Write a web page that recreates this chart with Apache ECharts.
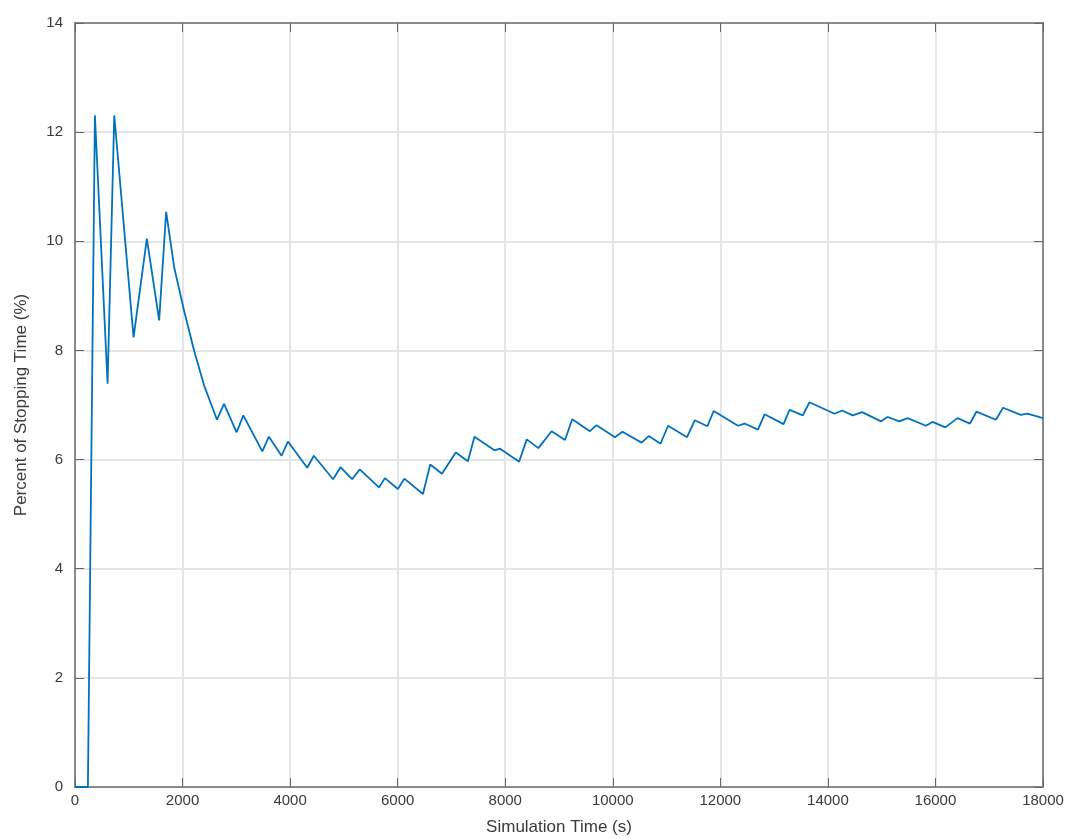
<!DOCTYPE html>
<html>
<head>
<meta charset="utf-8">
<script src="https://cdn.jsdelivr.net/npm/echarts@6/dist/echarts.min.js"></script>
<style>
html,body{margin:0;padding:0;background:#fff;}
#chart{width:1077px;height:839px;}
</style>
</head>
<body>
<div id="chart"></div>
<script>
var simTime = [0,240,370,606,730,1089,1336,1565,1695,1843,2028,2214,2400,2640,2771,3006,3130,3483,3606,3841,3959,4318,4441,4800,4936,5153,5295,5652,5763,6004,6124,6470,6606,6823,7080,7306,7428,7799,7905,8258,8400,8616,8863,9111,9246,9575,9699,10039,10181,10534,10670,10887,11028,11381,11524,11760,11876,12328,12452,12699,12823,13176,13287,13534,13658,14122,14264,14462,14636,14988,15111,15328,15482,15824,15947,16183,16411,16642,16764,17124,17258,17586,17709,18000];
var stopPct = [0,0,12.31,7.39,12.31,8.24,10.05,8.55,10.54,9.53,8.73,8.0,7.36,6.73,7.02,6.50,6.81,6.15,6.42,6.07,6.33,5.85,6.07,5.64,5.86,5.64,5.82,5.49,5.66,5.46,5.65,5.37,5.91,5.74,6.13,5.97,6.42,6.17,6.20,5.96,6.37,6.21,6.52,6.36,6.74,6.52,6.63,6.41,6.51,6.31,6.43,6.29,6.62,6.41,6.72,6.61,6.89,6.62,6.66,6.55,6.83,6.65,6.91,6.81,7.05,6.84,6.90,6.81,6.87,6.70,6.78,6.70,6.76,6.62,6.69,6.59,6.76,6.66,6.88,6.73,6.95,6.82,6.84,6.76];
var xTitle = 'Simulation Time (s)';
var yTitle = 'Percent of Stopping Time (%)';

var pts = simTime.map(function(t,i){ return [t, stopPct[i]]; });
var font = 'Liberation Sans, Arial, Helvetica, sans-serif';
var axisCol = '#8a8a8a';
var txtCol = '#3a3a3a';
var gridCol = '#e6e6e6';

var chart = echarts.init(document.getElementById('chart'));
chart.setOption({
  animation: false,
  grid: {left: 75, top: 23, right: 34, bottom: 52, containLabel: false, outerBoundsMode: 'none'},
  xAxis: [{
    type: 'value', min: 0, max: 18000, interval: 2000,
    name: xTitle, nameLocation: 'middle', nameGap: 32,
    nameTextStyle: {fontFamily: font, fontSize: 17, color: txtCol},
    axisLine: {show: true, onZero: false, lineStyle: {color: axisCol, width: 2}},
    axisTick: {show: true, inside: true, length: 9, lineStyle: {color: '#666', width: 1}},
    axisLabel: {fontFamily: font, fontSize: 15, color: txtCol, margin: 6,
      formatter: function(v){ return String(v); }},
    splitLine: {show: true, lineStyle: {color: gridCol, width: 2}}
  }, {
    type: 'value', min: 0, max: 18000, interval: 2000, position: 'top',
    axisLine: {show: true, onZero: false, lineStyle: {color: axisCol, width: 2}},
    axisTick: {show: true, inside: true, length: 9, lineStyle: {color: '#666', width: 1}},
    axisLabel: {show: false}, splitLine: {show: false}
  }],
  yAxis: [{
    type: 'value', min: 0, max: 14, interval: 2,
    name: yTitle, nameLocation: 'middle', nameGap: 45,
    nameTextStyle: {fontFamily: font, fontSize: 17, color: txtCol},
    axisLine: {show: true, onZero: false, lineStyle: {color: axisCol, width: 2}},
    axisTick: {show: true, inside: true, length: 9, lineStyle: {color: '#666', width: 1}},
    axisLabel: {fontFamily: font, fontSize: 15, color: txtCol, margin: 12},
    splitLine: {show: true, lineStyle: {color: gridCol, width: 2}}
  }, {
    type: 'value', min: 0, max: 14, interval: 2, position: 'right',
    axisLine: {show: true, onZero: false, lineStyle: {color: axisCol, width: 2}},
    axisTick: {show: true, inside: true, length: 9, lineStyle: {color: '#666', width: 1}},
    axisLabel: {show: false}, splitLine: {show: false}
  }],
  series: [{
    type: 'line', data: pts, showSymbol: false, symbol: 'none',
    lineStyle: {color: '#0072BD', width: 1.8}, z: 5
  }]
});
</script>
</body>
</html>
